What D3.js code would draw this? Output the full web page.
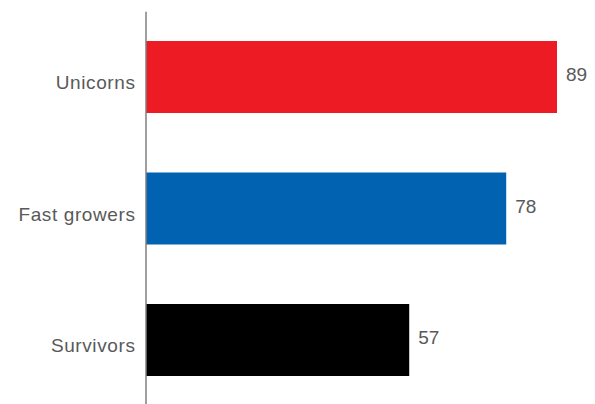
<!DOCTYPE html>
<html>
<head>
<meta charset="utf-8">
<script src="https://cdn.jsdelivr.net/npm/d3@7"></script>
<style>
  html, body { margin: 0; padding: 0; background: #fff; }
  svg { display: block; }
</style>
</head>
<body>
<svg id="chart" width="595" height="404"></svg>
<script>
const categories = ["Unicorns", "Fast growers", "Survivors"];
const values = [89, 78, 57];
const colors = ["#ED1C24", "#0062B0", "#000000"];

const svg = d3.select("#chart");
const x0 = 146;
const x = d3.scaleLinear().domain([0, 89]).range([x0, 557]);
const y = d3.scaleBand().domain(categories)
  .range([11.25, 405.75]).paddingInner(0.4525).paddingOuter(0.22625);

svg.selectAll("rect.bar").data(categories).join("rect")
  .attr("class", "bar")
  .attr("x", x(0))
  .attr("y", d => y(d))
  .attr("width", (d, i) => x(values[i]) - x(0))
  .attr("height", y.bandwidth())
  .attr("fill", (d, i) => colors[i]);

const axis = svg.append("g")
  .attr("transform", `translate(${x0 - 0.5},0)`)
  .call(d3.axisLeft(y).tickSize(0).tickPadding(10));
axis.select(".domain").attr("stroke", "#7f7f7f").attr("stroke-width", 1.5);
axis.selectAll(".tick text")
  .attr("font-family", "'Liberation Sans', Arial, sans-serif")
  .attr("font-size", 19)
  .attr("letter-spacing", "0.6px")
  .attr("fill", "#595959")
  .attr("dy", null)
  .attr("y", 12);

svg.selectAll("text.val").data(categories).join("text")
  .attr("class", "val")
  .attr("x", (d, i) => x(values[i]) + 9)
  .attr("y", d => y(d) + y.bandwidth() / 2 + 4)
  .attr("font-family", "'Liberation Sans', Arial, sans-serif")
  .attr("font-size", 19)
  .attr("fill", "#595959")
  .text((d, i) => values[i]);
</script>
</body>
</html>
